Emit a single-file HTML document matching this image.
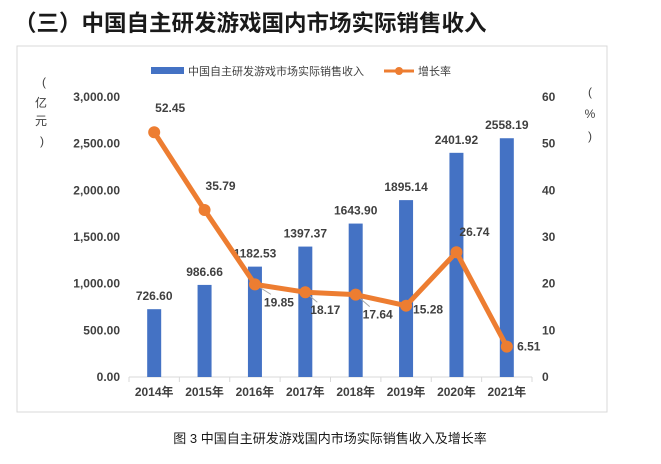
<!DOCTYPE html>
<html><head><meta charset="utf-8"><style>
body{margin:0;background:#fff;width:661px;height:459px;overflow:hidden;font-family:"Liberation Sans","Noto Sans CJK SC",sans-serif}
</style></head><body>
<svg width="661" height="459" xmlns="http://www.w3.org/2000/svg" font-family="Liberation Sans, Noto Sans CJK SC, sans-serif">
<text x="14" y="31" font-size="22.5" font-weight="bold" fill="#1a1a1a">（三）中国自主研发游戏国内市场实际销售收入</text>
<rect x="17" y="46" width="590" height="366" fill="none" stroke="#d9d9d9"/>
<g>
<rect x="151" y="67" width="33" height="7" fill="#4472c4"/>
<text x="188" y="75" font-size="11" fill="#404040">中国自主研发游戏市场实际销售收入</text>
<line x1="384" y1="71" x2="414" y2="71" stroke="#ed7d31" stroke-width="3"/>
<circle cx="399" cy="71" r="4" fill="#ed7d31"/>
<text x="418" y="75" font-size="11" fill="#404040">增长率</text>
</g>
<g font-size="12" fill="#404040" text-anchor="middle">
<text x="44" y="86">(</text><text x="41" y="107">亿</text><text x="41" y="125">元</text><text x="42" y="145">)</text>
</g>
<g font-size="12" fill="#404040" text-anchor="middle">
<text x="590" y="96">(</text><text x="590" y="118">%</text><text x="590" y="140">)</text>
</g>
<g id="chart"></g>
<text x="330" y="443" font-size="13" fill="#1a1a1a" text-anchor="middle">图 3 中国自主研发游戏国内市场实际销售收入及增长率</text>
</svg>
<script>
const categories=["2014年","2015年","2016年","2017年","2018年","2019年","2020年","2021年"];
const revenue=[726.60,986.66,1182.53,1397.37,1643.90,1895.14,2401.92,2558.19];
const growth=[52.45,35.79,19.85,18.17,17.64,15.28,26.74,6.51];
const leftTicks=[0,500,1000,1500,2000,2500,3000];
const rightTicks=[0,10,20,30,40,50,60];
const growthLabelOffsets=[[16,-20],[16,-20],[24,22],[20,22],[22,24],[22,8],[18,-16],[22,4]];
const leaderFlags=[0,0,1,1,1,0,0,0];
const NS="http://www.w3.org/2000/svg";
const g=document.getElementById('chart');
const x0=129,x1=532,yTop=97,yBot=377;
const band=(x1-x0)/categories.length;
const xc=i=>x0+band*(i+0.5);
const yL=v=>yBot-(v/3000)*(yBot-yTop);
const yR=v=>yBot-(v/60)*(yBot-yTop);
function el(t,a,txt){const e=document.createElementNS(NS,t);for(const k in a)e.setAttribute(k,a[k]);if(txt!=null)e.textContent=txt;g.appendChild(e);return e;}
let ax=el('line',{x1:x0,y1:yBot,x2:x1,y2:yBot,stroke:'#d9d9d9'});


for(let i=0;i<=categories.length;i++){let t=el('line',{x1:x0+band*i,y1:yBot,x2:x0+band*i,y2:yBot+5,stroke:'#d9d9d9'});

}
leftTicks.forEach(v=>{let t=el('text',{x:120,y:yL(v)+4,'font-size':12,'font-weight':'bold',fill:'#404040','text-anchor':'end'},v.toLocaleString('en-US',{minimumFractionDigits:2}));

});
rightTicks.forEach(v=>{let t=el('text',{x:542,y:yR(v)+4,'font-size':12,'font-weight':'bold',fill:'#404040'},v);

});
categories.forEach((c,i)=>{let t=el('text',{x:xc(i),y:396,'font-size':12,'font-weight':'bold',fill:'#404040','text-anchor':'middle'},c);

});
revenue.forEach((v,i)=>{let b=el('rect',{x:xc(i)-7,y:yL(v),width:14,height:yBot-yL(v),fill:'#4472c4'});


let t=el('text',{x:xc(i),y:yL(v)-9,'font-size':12,'font-weight':'bold',fill:'#404040','text-anchor':'middle'},v.toFixed(2));

});
growth.forEach((v,i)=>{if(!leaderFlags[i])return;const o=growthLabelOffsets[i];
let l=el('line',{x1:xc(i),y1:yR(v),x2:xc(i)+o[0]-8,y2:yR(v)+o[1]-12,stroke:'#a6a6a6','stroke-width':1});

});
let pts=growth.map((v,i)=>xc(i)+','+yR(v)).join(' ');
let ln=el('polyline',{points:pts,fill:'none',stroke:'#ed7d31','stroke-width':5,'stroke-linejoin':'round'});


growth.forEach((v,i)=>{let c=el('circle',{cx:xc(i),cy:yR(v),r:6,fill:'#ed7d31'});


const o=growthLabelOffsets[i];
let t=el('text',{x:xc(i)+o[0],y:yR(v)+o[1],'font-size':12,'font-weight':'bold',fill:'#404040','text-anchor':'middle'},v.toFixed(2));

});
</script>
</body></html>
